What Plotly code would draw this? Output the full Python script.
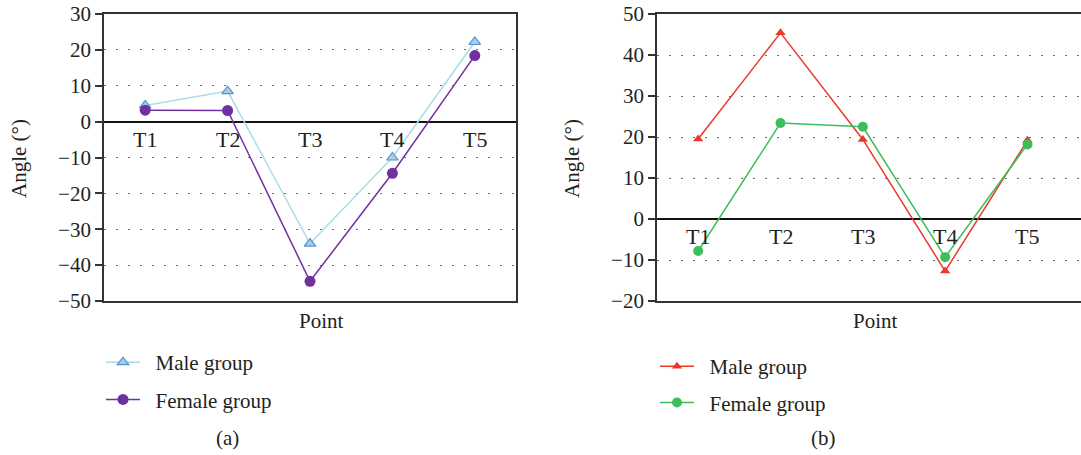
import plotly.graph_objects as go

points = ["T1", "T2", "T3", "T4", "T5"]
a_male = [4.5, 8.5, -34.0, -10.0, 22.2]
a_female = [3.2, 3.1, -44.5, -14.4, 18.4]
b_male = [19.5, 45.4, 19.4, -12.7, 19.2]
b_female = [-7.8, 23.4, 22.5, -9.3, 18.2]
legend_names = ["\u00a0\u00a0Male group", "\u00a0\u00a0Female group"]

W, H = 1081, 455
FONT = "Liberation Serif"
TXT = "#231f20"

def px_x(v):
    return v / W

def px_y(v):
    return 1 - v / H

fig = go.Figure()

fig.add_trace(go.Scatter(
    x=points, y=a_male, name=legend_names[0], mode="lines+markers",
    line=dict(color="#a9dce9", width=1.5),
    marker=dict(symbol="triangle-up", size=10, color="#9fd2ea",
                line=dict(color="#5b8fd0", width=1.2)),
    xaxis="x", yaxis="y", legend="legend", legendgroup="am"))
fig.add_trace(go.Scatter(
    x=points, y=a_female, name=legend_names[1], mode="lines+markers",
    line=dict(color="#7030a0", width=1.5),
    marker=dict(symbol="circle", size=11, color="#7030a0"),
    xaxis="x", yaxis="y", legend="legend", legendgroup="af"))
fig.add_trace(go.Scatter(
    x=points, y=b_male, name=legend_names[0], mode="lines+markers",
    line=dict(color="#e8392b", width=1.5),
    marker=dict(symbol="triangle-up", size=9, color="#e8392b"),
    xaxis="x2", yaxis="y2", legend="legend2", legendgroup="bm"))
fig.add_trace(go.Scatter(
    x=points, y=b_female, name=legend_names[1], mode="lines+markers",
    line=dict(color="#3dbe5a", width=1.5),
    marker=dict(symbol="circle", size=10, color="#3dbe5a"),
    xaxis="x2", yaxis="y2", legend="legend2", legendgroup="bf"))

grid = dict(showgrid=True, gridcolor="#6d6d6d", gridwidth=1.2, griddash="2px,10px",
            zeroline=True, zerolinecolor="#111111", zerolinewidth=1.5,
            showline=True, linecolor="#333333", linewidth=1.8,
            ticks="outside", ticklen=7, tickwidth=1.8, tickcolor="#333333",
            tickfont=dict(family=FONT, size=21, color=TXT), dtick=10)

xbase = dict(showgrid=False, zeroline=False, showticklabels=False, ticks="",
             showline=True, linecolor="#333333", linewidth=1.8, mirror=True)

top, bottom = 14, 301
leg_font = dict(family=FONT, size=21, color=TXT)
fig.update_layout(
    width=W, height=H, margin=dict(l=0, r=0, t=0, b=0, autoexpand=False),
    plot_bgcolor="white", paper_bgcolor="white",
    font=dict(family=FONT, color=TXT),
    xaxis=dict(domain=[px_x(104), px_x(516)], range=[-0.5, 4.5], anchor="y", **xbase),
    yaxis=dict(domain=[px_y(bottom), px_y(top)], range=[-50, 30], anchor="x",
               mirror=True, **grid),
    xaxis2=dict(domain=[px_x(657), 1.0], range=[-0.5, 4.65], anchor="y2", **xbase),
    yaxis2=dict(domain=[px_y(bottom), px_y(top)], range=[-20, 50], anchor="x2",
                mirror=False, **grid),
    legend=dict(x=px_x(101), y=px_y(342), xanchor="left", yanchor="top",
                font=leg_font, itemwidth=34,
                traceorder="grouped", tracegroupgap=7, bgcolor="rgba(0,0,0,0)"),
    legend2=dict(x=px_x(655), y=px_y(346), xanchor="left", yanchor="top",
                 font=leg_font, itemwidth=34,
                 traceorder="grouped", tracegroupgap=6, bgcolor="rgba(0,0,0,0)"),
    showlegend=True,
)

ann = []
for p in points:
    ann.append(dict(x=p, y=0, xref="x", yref="y", text=p, showarrow=False,
                    yanchor="top", yshift=-3, font=dict(family=FONT, size=22, color=TXT)))
    ann.append(dict(x=p, y=0, xref="x2", yref="y2", text=p, showarrow=False,
                    yanchor="top", yshift=-3, font=dict(family=FONT, size=22, color=TXT)))

def txt(x, y, t, angle=0):
    return dict(x=px_x(x), y=px_y(y), xref="paper", yref="paper", text=t,
                showarrow=False, xanchor="center", yanchor="middle", textangle=angle,
                font=dict(family=FONT, size=21, color=TXT))

ann += [
    txt(19, 159, "Angle (°)", -90),
    txt(321, 321, "Point"),
    txt(572, 159, "Angle (°)", -90),
    txt(875, 321, "Point"),
    txt(227, 438, "(a)"),
    txt(823, 438, "(b)"),
]
fig.update_layout(annotations=ann)

fig.write_html("out.html", config={"displayModeBar": False},
               post_script="document.body.style.margin='0';")
